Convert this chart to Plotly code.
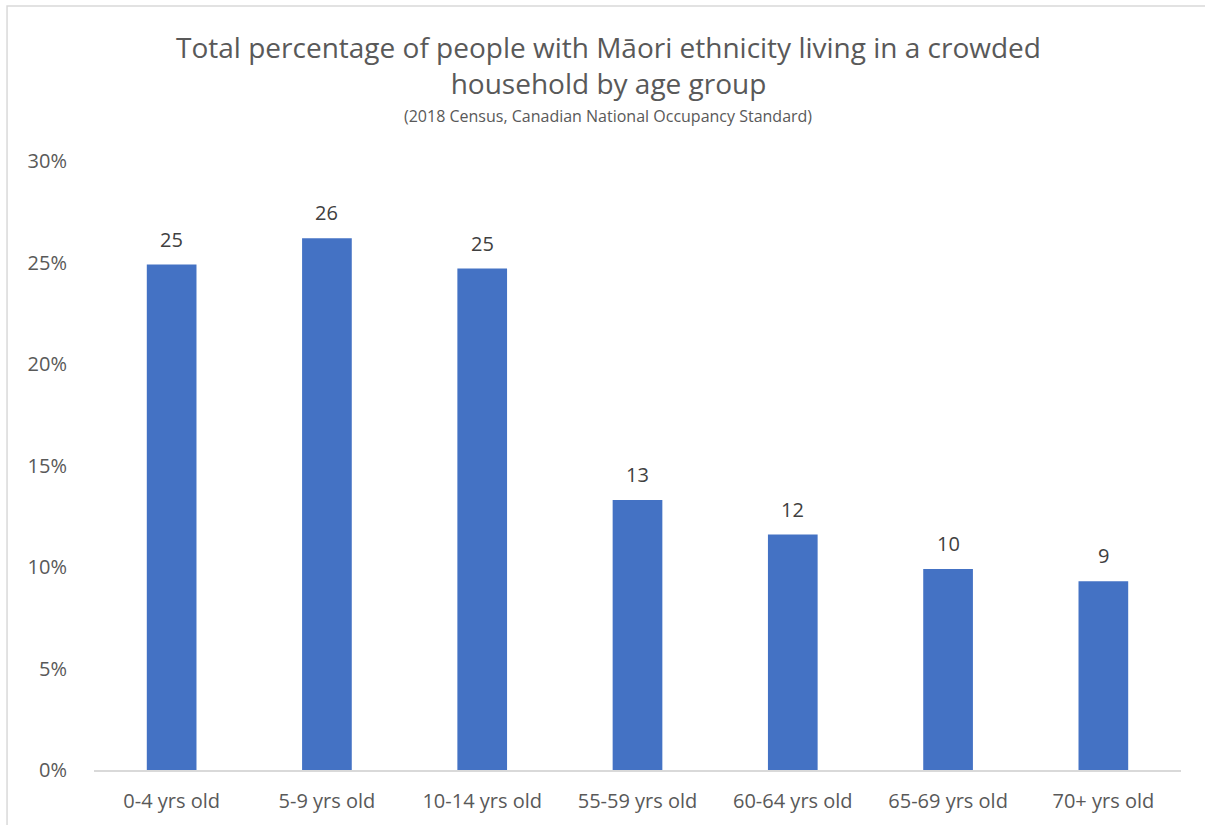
import plotly.graph_objects as go

# Share of Māori-ethnicity people living in crowded households, by age group (%)
age_groups = ["0-4 yrs old", "5-9 yrs old", "10-14 yrs old", "55-59 yrs old",
              "60-64 yrs old", "65-69 yrs old", "70+ yrs old"]
crowded_pct = [24.9, 26.2, 24.7, 13.3, 11.6, 9.9, 9.3]
y_ticks = [0, 5, 10, 15, 20, 25, 30]
y_tick_labels = [f"{t}%" for t in y_ticks]

FONT = "Open Sans"
TEXT = "#595959"

fig = go.Figure()
fig.add_trace(go.Bar(
    x=age_groups,
    y=crowded_pct,
    marker=dict(color="#4472C4", line=dict(width=0)),
    hovertemplate="%{x}: %{y:.1f}%<extra></extra>",
))

# Rounded value labels above each bar
for g, v in zip(age_groups, crowded_pct):
    fig.add_annotation(
        x=g, y=v, text=f"{v:.0f}", showarrow=False,
        yanchor="bottom", yshift=10,
        font=dict(family=FONT, size=20, color="#404040"),
    )

# Subtitle
fig.add_annotation(
    x=0.473, xref="paper", y=1.074, yref="paper", yanchor="middle",
    text="(2018 Census, Canadian National Occupancy Standard)", showarrow=False,
    font=dict(family=FONT, size=16, color=TEXT),
)

# Light outer frame of the chart area
fig.add_shape(type="rect", xref="paper", yref="paper",
              x0=-0.0800, x1=1.03, y0=-0.11, y1=1.2545,
              line=dict(color="#d9d9d9", width=1.5), fillcolor="rgba(0,0,0,0)")

fig.update_layout(
    width=1205, height=825,
    margin=dict(l=94, r=24, t=161, b=55),
    paper_bgcolor="white", plot_bgcolor="white",
    bargap=0.68,
    showlegend=False,
    title=dict(
        text="Total percentage of people with Māori ethnicity living in a crowded<br>household by age group",
        x=0.505, xanchor="center", y=0.9297, yanchor="middle",
        font=dict(family=FONT, size=28, color=TEXT),
    ),
    xaxis=dict(
        showgrid=False, showline=True, linecolor="#d9d9d9", linewidth=1.5,
        ticks="outside", ticklen=12, tickcolor="rgba(0,0,0,0)",
        tickfont=dict(family=FONT, size=20, color=TEXT),
    ),
    yaxis=dict(
        range=[0, 30], tickmode="array", tickvals=y_ticks, ticktext=y_tick_labels,
        showgrid=False, zeroline=False, showline=False,
        ticks="outside", ticklen=22, tickcolor="rgba(0,0,0,0)",
        tickfont=dict(family=FONT, size=20, color=TEXT),
    ),
)

fig.write_html("out.html")
